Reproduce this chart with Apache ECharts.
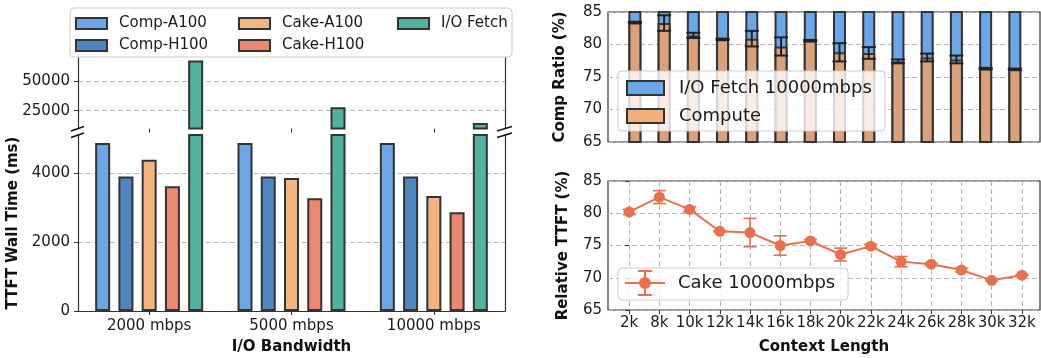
<!DOCTYPE html>
<html>
<head>
<meta charset="utf-8">
<script src="https://cdn.jsdelivr.net/npm/echarts@6/dist/echarts.min.js"></script>
<style>
  html, body { margin: 0; padding: 0; background: #fff; }
  #main { width: 1041px; height: 358px; }
</style>
</head>
<body>
<div id="main"></div>
<script>
// left panel: TTFT wall time per bandwidth (ms)
const bandwidths = ['2000 mbps', '5000 mbps', '10000 mbps'];
const compA100 = [4870, 4870, 4870];
const compH100 = [3900, 3900, 3900];
const cakeA100 = [4385, 3855, 3330];
const cakeH100 = [3615, 3270, 2865];
const ioFetch = [67000, 27800, 14700];
const lowerTicks = [0, 2000, 4000];
const upperTicks = [25000, 50000];

// right panels: context length sweep at 10000mbps
const contextLens = ['2k', '8k', '10k', '12k', '14k', '16k', '18k', '20k', '22k', '24k', '26k', '28k', '30k', '32k'];
const computeRatio = [83.4, 83.3, 81.4, 80.8, 80.9, 79.7, 80.6, 78.8, 78.7, 77.4, 78.0, 77.7, 76.3, 76.2];
const computeErr = [0.1, 1.2, 0.4, 0.1, 1.2, 1.4, 0.1, 1.4, 0.9, 0.3, 0.6, 0.6, 0.1, 0.1];
const ioRatio = [16.6, 16.7, 18.6, 19.2, 19.1, 20.3, 19.4, 21.2, 21.3, 22.6, 22.0, 22.3, 23.7, 23.8];
const relTTFT = [80.2, 82.5, 80.6, 77.2, 77.0, 75.0, 75.7, 73.6, 74.9, 72.5, 72.1, 71.2, 69.6, 70.4];
const relTTFTErr = [0.4, 1.0, 0.4, 0.1, 2.2, 1.5, 0.2, 1.0, 0.3, 0.8, 0.2, 0.3, 0.1, 0.1];
const pctTicks = [65, 70, 75, 80, 85];

const FONT = 'DejaVu Sans';
const EDGE = '#333';
const gridLine = { show: true, lineStyle: { color: '#b8b8b8', type: [5, 3], width: 1.1 } };
const tickLabel = { color: '#1a1a1a', fontFamily: FONT, fontSize: 15, formatter: v => String(v) };
const axisName = { color: '#111', fontFamily: FONT, fontSize: 15, fontWeight: 'bold' };
const spine = { show: true, lineStyle: { color: EDGE, width: 1.2 } };

const ctxIdx = contextLens.map((_, i) => i);

function errorBars(capW, color, lw) {
  return function (params, api) {
    const x = api.value(0);
    const top = api.coord([x, api.value(2)]);
    const bot = api.coord([x, api.value(1)]);
    const st = { stroke: color, lineWidth: lw };
    return {
      type: 'group',
      children: [
        { type: 'line', shape: { x1: top[0], y1: top[1], x2: bot[0], y2: bot[1] }, style: st },
        { type: 'line', shape: { x1: top[0] - capW / 2, y1: top[1], x2: top[0] + capW / 2, y2: top[1] }, style: st },
        { type: 'line', shape: { x1: bot[0] - capW / 2, y1: bot[1], x2: bot[0] + capW / 2, y2: bot[1] }, style: st }
      ]
    };
  };
}

const leftSeriesDefs = [
  { name: 'Comp-A100', data: compA100, color: '#6CA6E4' },
  { name: 'Comp-H100', data: compH100, color: '#4F86BF' },
  { name: 'Cake-A100', data: cakeA100, color: '#F5B47E' },
  { name: 'Cake-H100', data: cakeH100, color: '#EB8870' },
  { name: 'I/O Fetch', data: ioFetch, color: '#52B2A2' }
];

const series = [];
[[0, 0], [1, 2]].forEach(([xi, yi]) => {
  leftSeriesDefs.forEach(d => {
    series.push({
      name: d.name, type: 'bar', xAxisIndex: xi, yAxisIndex: yi,
      data: d.data, barWidth: 15, barGap: '55%', clip: true,
      itemStyle: { color: d.color, borderColor: EDGE, borderWidth: 2 },
      emphasis: { disabled: true }
    });
  });
});

// I/O share sits on top of compute share (full bar drawn behind, compute in front)
series.push({
  name: 'I/O Fetch 10000mbps', type: 'bar', xAxisIndex: 2, yAxisIndex: 4,
  data: computeRatio.map((v, i) => [i, v + ioRatio[i]]), barWidth: 13, barGap: '-100%', clip: true,
  itemStyle: { color: '#6AA6E8', borderColor: EDGE, borderWidth: 2 }
});
series.push({
  name: 'Compute', type: 'bar', xAxisIndex: 2, yAxisIndex: 4,
  data: computeRatio.map((v, i) => [i, v]), barWidth: 13, barGap: '-100%', clip: true,
  itemStyle: { color: '#DBA17B', borderColor: EDGE, borderWidth: 2 }
});
series.push({
  type: 'custom', xAxisIndex: 2, yAxisIndex: 4, z: 3, clip: true,
  renderItem: errorBars(14, '#222', 2),
  encode: { x: 0, y: [1, 2] },
  data: computeRatio.map((v, i) => [i, v - computeErr[i], v + computeErr[i]])
});

series.push({
  type: 'custom', xAxisIndex: 3, yAxisIndex: 5, z: 3, clip: true,
  renderItem: errorBars(13, '#E8704F', 1.6),
  encode: { x: 0, y: [1, 2] },
  data: relTTFT.map((v, i) => [i, v - relTTFTErr[i], v + relTTFTErr[i]])
});
series.push({
  name: 'Cake 10000mbps', type: 'line', xAxisIndex: 3, yAxisIndex: 5, z: 4,
  data: relTTFT.map((v, i) => [i, v]),
  symbol: 'circle', symbolSize: 11,
  lineStyle: { color: '#E8704F', width: 2 },
  itemStyle: { color: '#E8704F', borderWidth: 0 }
});

const errIcon = 'path://M0 12H40V14H0Z M19 1H21V25H19Z M13 0H27V2H13Z M13 24H27V26H13Z M14 13A6 6 0 1 1 26 13A6 6 0 1 1 14 13Z';

function colLegend(names, left, top) {
  return {
    data: names, orient: 'vertical', left: left, top: top, z: 20, padding: 0,
    itemWidth: 31, itemHeight: 11, itemGap: 7, icon: 'rect',
    textStyle: { fontFamily: FONT, fontSize: 15, color: '#1a1a1a', padding: [0, 0, 0, 7] },
    itemStyle: { borderColor: EDGE, borderWidth: 2 },
    selectedMode: false
  };
}

const option = {
  animation: false,
  backgroundColor: '#fff',
  grid: [
    { left: 78, width: 427, top: 135, height: 176 },
    { left: 78, width: 427, top: 57, height: 71.5 },
    { left: 608, right: 1, top: 12, height: 130, show: true, borderColor: EDGE, borderWidth: 1.2, backgroundColor: 'transparent' },
    { left: 608, right: 1, top: 181, height: 129, show: true, borderColor: EDGE, borderWidth: 1.2, backgroundColor: 'transparent' }
  ],
  xAxis: [
    {
      gridIndex: 0, type: 'category', data: bandwidths,
      axisLine: spine, axisTick: { show: true, alignWithLabel: true, length: 4, lineStyle: { color: EDGE } },
      axisLabel: Object.assign({}, tickLabel, { margin: 8 }),
      name: 'I/O Bandwidth', nameLocation: 'middle', nameGap: 29, nameTextStyle: axisName
    },
    {
      gridIndex: 1, type: 'category', data: bandwidths,
      axisLine: { show: false }, axisTick: { show: true, alignWithLabel: true, length: 4, lineStyle: { color: EDGE } },
      axisLabel: { show: false }
    },
    {
      gridIndex: 2, type: 'value', min: -0.92, max: 13.86,
      axisLine: { show: false }, axisTick: { show: false }, axisLabel: { show: false }, splitLine: { show: false }
    },
    {
      gridIndex: 3, type: 'value', min: -0.7, max: 13.6,
      axisLine: { show: false },
      axisTick: { show: true, length: 4, customValues: ctxIdx, lineStyle: { color: EDGE } },
      axisLabel: Object.assign({}, tickLabel, { margin: 6, customValues: ctxIdx, formatter: v => contextLens[v] }),
      splitLine: gridLine,
      name: 'Context Length', nameLocation: 'middle', nameGap: 30, nameTextStyle: axisName
    }
  ],
  yAxis: [
    {
      gridIndex: 0, type: 'value', min: 0, max: 5100,
      axisLine: spine, axisTick: { show: true, length: 4, customValues: lowerTicks, lineStyle: { color: EDGE } },
      axisLabel: Object.assign({}, tickLabel, { margin: 8, customValues: lowerTicks }),
      splitLine: gridLine,
      name: 'TTFT Wall Time (ms)', nameLocation: 'middle', nameGap: 57, nameRotate: 90, nameTextStyle: axisName
    },
    {
      gridIndex: 0, type: 'value', position: 'right', min: 0, max: 5100,
      axisLine: spine, axisTick: { show: false }, axisLabel: { show: false }, splitLine: { show: false }
    },
    {
      gridIndex: 1, type: 'value', min: 10000, max: 70000,
      axisLine: spine, axisTick: { show: true, length: 4, customValues: upperTicks, lineStyle: { color: EDGE } },
      axisLabel: Object.assign({}, tickLabel, { margin: 8, customValues: upperTicks }),
      splitLine: gridLine
    },
    {
      gridIndex: 1, type: 'value', position: 'right', min: 10000, max: 70000,
      axisLine: spine, axisTick: { show: false }, axisLabel: { show: false }, splitLine: { show: false }
    },
    {
      gridIndex: 2, type: 'value', min: 65, max: 85, interval: 5,
      axisLine: { show: false }, axisTick: { show: true, length: 4, lineStyle: { color: EDGE } },
      axisLabel: Object.assign({}, tickLabel, { margin: 6 }),
      splitLine: gridLine,
      name: 'Comp Ratio (%)', nameLocation: 'middle', nameGap: 40, nameRotate: 90, nameTextStyle: axisName
    },
    {
      gridIndex: 3, type: 'value', min: 65, max: 85, interval: 5,
      axisLine: { show: false }, axisTick: { show: true, length: 4, lineStyle: { color: EDGE } },
      axisLabel: Object.assign({}, tickLabel, { margin: 6 }),
      splitLine: gridLine,
      name: 'Relative TTFT (%)', nameLocation: 'middle', nameGap: 37, nameRotate: 90, nameTextStyle: axisName
    }
  ],
  legend: [
    colLegend(['Comp-A100', 'Comp-H100'], 75, 16),
    colLegend(['Cake-A100', 'Cake-H100'], 238, 16),
    colLegend(['I/O Fetch'], 397, 16),
    {
      data: [
        { name: 'I/O Fetch 10000mbps' },
        { name: 'Compute', itemStyle: { color: '#F4B07C' } }
      ],
      orient: 'vertical', left: 626, top: 79, z: 20, padding: 0,
      itemWidth: 37, itemHeight: 14, itemGap: 10, icon: 'rect',
      textStyle: { fontFamily: FONT, fontSize: 18, color: '#1a1a1a', padding: [0, 0, 0, 10] },
      itemStyle: { borderColor: EDGE, borderWidth: 2 },
      selectedMode: false
    },
    {
      data: ['Cake 10000mbps'], left: 625, top: 270, z: 20, padding: 0,
      icon: errIcon, itemWidth: 40, itemHeight: 26,
      textStyle: { fontFamily: FONT, fontSize: 18, color: '#1a1a1a', padding: [0, 0, 0, 8] },
      itemStyle: { color: '#E8704F', borderWidth: 0 },
      selectedMode: false
    }
  ],
  graphic: [
    { type: 'rect', z: 10, shape: { x: 70, y: 8, width: 442, height: 49, r: 4 },
      style: { fill: 'rgba(255,255,255,0.85)', stroke: '#cccccc', lineWidth: 1 } },
    { type: 'rect', z: 10, shape: { x: 618, y: 71, width: 267, height: 60, r: 4 },
      style: { fill: 'rgba(255,255,255,0.8)', stroke: '#cccccc', lineWidth: 1 } },
    { type: 'rect', z: 10, shape: { x: 618, y: 268, width: 230, height: 32, r: 4 },
      style: { fill: 'rgba(255,255,255,0.8)', stroke: '#cccccc', lineWidth: 1 } },
    // axis break marks
    { type: 'line', z: 11, shape: { x1: 71, y1: 131, x2: 84, y2: 126.5 }, style: { stroke: '#111', lineWidth: 1.5 } },
    { type: 'line', z: 11, shape: { x1: 71, y1: 137.5, x2: 84, y2: 133 }, style: { stroke: '#111', lineWidth: 1.5 } },
    { type: 'line', z: 11, shape: { x1: 497, y1: 131, x2: 512, y2: 126.5 }, style: { stroke: '#111', lineWidth: 1.5 } },
    { type: 'line', z: 11, shape: { x1: 497, y1: 137.5, x2: 512, y2: 133 }, style: { stroke: '#111', lineWidth: 1.5 } }
  ],
  series: series
};

const chart = echarts.init(document.getElementById('main'), null, { renderer: 'canvas' });
chart.setOption(option);
</script>
</body>
</html>
